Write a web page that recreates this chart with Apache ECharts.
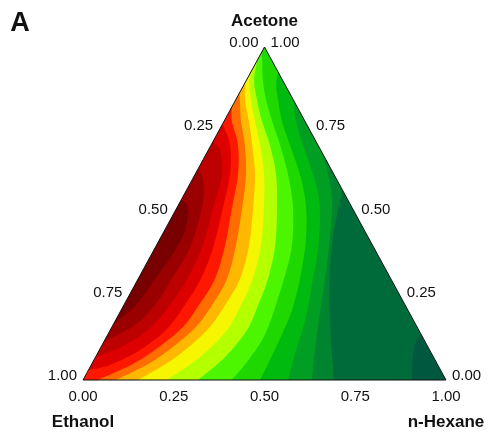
<!DOCTYPE html>
<html><head><meta charset="utf-8">
<script src="https://cdn.jsdelivr.net/npm/echarts@6/dist/echarts.min.js"></script>
<style>html,body{margin:0;padding:0;background:#fff}#c{width:490px;height:433px}</style>
</head><body><div id="c"></div>
<script>
// Band colours, from the n-Hexane corner (lowest) to the darkest red (highest)
const bandColors = ['#00583f','#006b3a','#008430','#009e22','#00ba10','#1ed800','#4cf500','#b4ff00',
                    '#f6f600','#ffb800','#ff6c00','#ff1800','#de0000','#bd0000','#9a0000','#780000'];

// Contour boundaries as [n-Hexane fraction, Acetone fraction] points
const b1  = [[0.859,0.141],[0.862,0.105],[0.878,0.06],[0.906,0]];
const b2  = [[0.426,0.574],[0.438,0.541],[0.457,0.48],[0.483,0.405],[0.528,0.303],[0.575,0.21],[0.623,0.12],[0.666,0.045],[0.691,0]];
const b3  = [[0.309,0.691],[0.357,0.631],[0.398,0.571],[0.431,0.511],[0.47,0.42],[0.515,0.303],[0.56,0.18],[0.594,0.09],[0.631,0]];
const b4  = [[0.159,0.841],[0.198,0.778],[0.253,0.706],[0.326,0.616],[0.38,0.541],[0.413,0.48],[0.452,0.39],[0.482,0.303],[0.522,0.18],[0.542,0.09],[0.565,0]];
const b5  = [[0.075,0.925],[0.089,0.886],[0.117,0.841],[0.159,0.778],[0.217,0.706],[0.29,0.616],[0.351,0.526],[0.404,0.42],[0.446,0.303],[0.471,0.21],[0.48,0.135],[0.485,0.06],[0.488,0]];
const b6  = [[0,0.982],[0.013,0.961],[0.045,0.901],[0.084,0.841],[0.132,0.778],[0.19,0.706],[0.257,0.616],[0.32,0.517],[0.373,0.405],[0.402,0.303],[0.432,0.15],[0.427,0.066],[0.41,0]];
const b7  = [[0,0.961],[0.021,0.901],[0.059,0.841],[0.104,0.778],[0.162,0.706],[0.224,0.616],[0.276,0.517],[0.327,0.405],[0.358,0.303],[0.37,0.225],[0.377,0.15],[0.357,0.069],[0.317,0]];
const b8  = [[0,0.931],[0.007,0.901],[0.042,0.841],[0.085,0.778],[0.135,0.706],[0.191,0.616],[0.24,0.517],[0.288,0.405],[0.316,0.303],[0.323,0.225],[0.322,0.15],[0.288,0.069],[0.231,0]];
const b9  = [[0,0.895],[0.026,0.841],[0.068,0.778],[0.113,0.706],[0.166,0.616],[0.21,0.517],[0.255,0.405],[0.281,0.303],[0.279,0.225],[0.267,0.15],[0.22,0.066],[0.152,0]];
const b10 = [[0,0.862],[0.02,0.826],[0.046,0.778],[0.093,0.706],[0.141,0.616],[0.18,0.517],[0.219,0.405],[0.245,0.303],[0.243,0.225],[0.228,0.15],[0.168,0.06],[0.091,0]];
const b11 = [[0,0.82],[0.021,0.778],[0.074,0.706],[0.119,0.616],[0.152,0.517],[0.189,0.405],[0.212,0.303],[0.207,0.225],[0.192,0.15],[0.127,0.06],[0.041,0]];
const b12 = [[0,0.769],[0.052,0.706],[0.097,0.616],[0.127,0.517],[0.158,0.405],[0.173,0.303],[0.168,0.225],[0.154,0.15],[0.112,0.09],[0.052,0.045],[0,0.03]];
const b13 = [[0,0.715],[0.032,0.691],[0.075,0.616],[0.1,0.517],[0.128,0.405],[0.135,0.303],[0.127,0.225],[0.107,0.156],[0.063,0.105],[0,0.069]];
const b14 = [[0,0.637],[0.04,0.586],[0.069,0.517],[0.095,0.405],[0.093,0.303],[0.086,0.225],[0.061,0.165],[0,0.114]];
const b15 = [[0,0.541],[0.031,0.517],[0.056,0.45],[0.058,0.375],[0.046,0.303],[0.036,0.231],[0,0.168]];
const boundaries = [b1,b2,b3,b4,b5,b6,b7,b8,b9,b10,b11,b12,b13,b14,b15];

// Tick values / labels for the three ternary axes
const tickValues = [0, 0.25, 0.5, 0.75, 1];
const tickLabels = ['0.00','0.25','0.50','0.75','1.00'];
const topName = 'Acetone', leftName = 'Ethanol', rightName = 'n-Hexane';
const panelLabel = 'A';

const FONT = '"Liberation Sans", Arial, sans-serif';

function toCart(h, a) { return [h + a / 2, a]; }

const chart = echarts.init(document.getElementById('c'), null, {renderer: 'canvas'});
chart.setOption({
  animation: false,
  grid: {left: 83, top: 47, right: 44, bottom: 53},
  xAxis: {type: 'value', min: 0, max: 1, show: false},
  yAxis: {type: 'value', min: 0, max: 1, show: false},
  series: [{
    type: 'custom',
    coordinateSystem: 'cartesian2d',
    clip: false,
    data: [[0, 0]],
    renderItem: function (params, api) {
      const P = (h, a) => api.coord(toCart(h, a));
      const apex = P(0, 1), bl = P(0, 0), br = P(1, 0);
      const f = v => v.toFixed(2);
      const children = [];
      children.push({type: 'polygon', shape: {points: [apex, bl, br]}, style: {fill: bandColors[0]}});
      boundaries.forEach((pts, i) => {
        const px = pts.map(p => P(p[0], p[1]));
        let d = 'M' + f(px[0][0]) + ' ' + f(px[0][1]);
        for (let k = 0; k < px.length - 1; k++) {
          const p0 = px[Math.max(k - 1, 0)], p1 = px[k], p2 = px[k + 1], p3 = px[Math.min(k + 2, px.length - 1)];
          const c1x = p1[0] + (p2[0] - p0[0]) / 6, c1y = p1[1] + (p2[1] - p0[1]) / 6;
          const c2x = p2[0] - (p3[0] - p1[0]) / 6, c2y = p2[1] - (p3[1] - p1[1]) / 6;
          d += ' C' + f(c1x) + ' ' + f(c1y) + ' ' + f(c2x) + ' ' + f(c2y) + ' ' + f(p2[0]) + ' ' + f(p2[1]);
        }
        const first = pts[0], last = pts[pts.length - 1];
        if (last[1] === 0) d += ' L' + f(bl[0]) + ' ' + f(bl[1]);
        if (Math.abs(first[0] + first[1] - 1) < 1e-6) d += ' L' + f(apex[0]) + ' ' + f(apex[1]);
        d += ' Z';
        children.push({type: 'path', shape: {pathData: d}, style: {fill: bandColors[i + 1]}});
      });
      // white masks outside triangle edges (tiny overshoots)
      children.push({type: 'polygon', shape: {points: [apex, bl, [bl[0] - 40, bl[1]], [apex[0] - 40, apex[1] - 5], [apex[0], apex[1] - 5]]}, style: {fill: '#fff'}});
      children.push({type: 'polygon', shape: {points: [apex, br, [br[0] + 40, br[1]], [apex[0] + 40, apex[1] - 5], [apex[0], apex[1] - 5]]}, style: {fill: '#fff'}});
      children.push({type: 'polygon', shape: {points: [[bl[0] - 5, bl[1]], [br[0] + 5, br[1]], [br[0] + 5, br[1] + 6], [bl[0] - 5, bl[1] + 6]]}, style: {fill: '#fff'}});
      children.push({type: 'polygon', shape: {points: [apex, bl, br]}, style: {fill: 'none', stroke: '#111', lineWidth: 1}});
      const txt = (x, y, text, align, font) => ({type: 'text', x: x, y: y,
        style: {text: text, font: font || ('15px ' + FONT), fill: '#111', align: align, verticalAlign: 'middle'}});
      tickValues.forEach((v, i) => {
        const pl = P(0, 1 - v);           // Ethanol fraction on left edge
        children.push(txt(pl[0] - 6, pl[1] - 4, tickLabels[i], 'right'));
        const pr = P(1 - v, v);           // Acetone fraction on right edge
        children.push(txt(pr[0] + 6, pr[1] - 4, tickLabels[i], 'left'));
        const pb = P(v, 0);               // n-Hexane fraction on bottom edge
        children.push(txt(pb[0], pb[1] + 17, tickLabels[i], 'center'));
      });
      const bold = 'bold 17px ' + FONT;
      children.push(txt(apex[0], apex[1] - 26, topName, 'center', bold));
      children.push(txt(bl[0], bl[1] + 42, leftName, 'center', bold));
      children.push(txt(br[0], br[1] + 42, rightName, 'center', bold));
      children.push(txt(20, 24, panelLabel, 'center', 'bold 27px ' + FONT));
      return {type: 'group', children: children};
    }
  }]
});
</script>
</body></html>
